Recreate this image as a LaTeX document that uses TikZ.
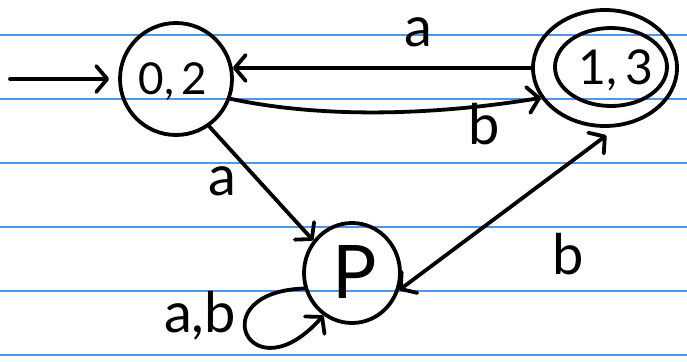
\documentclass[tikz,border=0pt]{standalone}
\usepackage{fontspec}
\setmainfont{Lato}
\usetikzlibrary{arrows.meta,shapes.geometric}
\begin{document}
\begin{tikzpicture}[x=1pt,y=-1pt,
  ruled/.style={draw={rgb,255:red,80;green,150;blue,235},line width=1.2pt},
  ink/.style={line width=3.8pt,line cap=round,line join=round},
  state/.style={ink,draw,ellipse,inner sep=0pt},
  tip/.style={-{Straight Barb[length=11pt,width=26pt,line width=3.8pt,round]}},
  lbl/.style={font=\fontsize{56}{56}\selectfont},
  stxt/.style={font=\fontsize{44}{44}\selectfont}]
\useasboundingbox (0,0) rectangle (687,361);
\fill[white] (0,0) rectangle (687,361);
\foreach \yy in {35,99,163,227,291,355} \draw[ruled] (0,\yy) -- (687,\yy);
% states
\node[state,minimum width=112pt,minimum height=112pt] (q02) at (176,79) {};
\node[stxt] (t02) at (173,82) {0,\,2};
\node[state,minimum width=144pt,minimum height=116pt] (q13o) at (605,68) {};
\node[state,minimum width=112pt,minimum height=78pt] (q13i) at (611,67) {};
\node[stxt,font=\fontsize{48}{48}\selectfont] (t13) at (616,70) {1,\,3};
\node[state,minimum width=96pt,minimum height=100pt] (P) at (352,273) {};
\node[font=\fontsize{74}{74}\selectfont] (tP) at (355,272) {P};
% edges
\coordinate (s) at (10,79);
\draw[ink,tip,shorten >=9pt] (s) -- (q02.west);
\draw[ink,tip] (q13o.west |- 0,68) -- (q02.11);
\draw[ink,tip] (q02.-20) .. controls (320,118) and (430,116) .. (q13o.205);
\draw[ink,tip] (q02.-55) -- (P.140);
\draw[ink,{Straight Barb[length=11pt,width=26pt,line width=3.8pt,round]}-{Straight Barb[length=11pt,width=26pt,line width=3.8pt,round]},shorten <=14pt] (q13o.-78) -- (P.-20);
\draw[ink,tip] (P.198) .. controls (200,292) and (250,398) .. (P.236);
% labels
\node[lbl] (la1) at (418,32) {a};
\node[lbl] (lb1) at (484,124) {b};
\node[lbl] (la2) at (222,181) {a};
\node[lbl] (lb2) at (568,254) {b};
\node[lbl] (lab) at (200,316) {a,b};
\end{tikzpicture}
\end{document}
